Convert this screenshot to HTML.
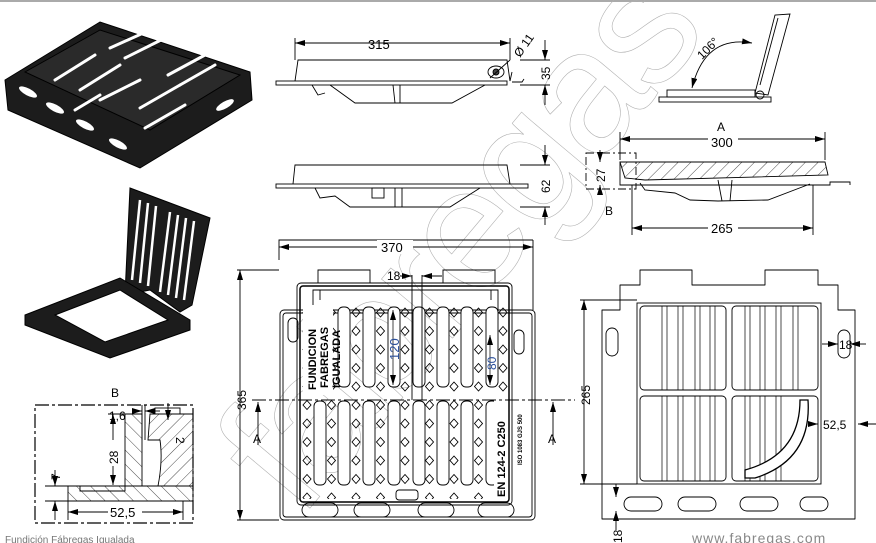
<!DOCTYPE html>
<html><head><meta charset="utf-8"><style>
html,body{margin:0;padding:0;background:#fff;}
svg{display:block;font-family:"Liberation Sans",sans-serif;}
</style></head><body>
<svg width="876" height="543" viewBox="0 0 876 543" xmlns="http://www.w3.org/2000/svg">
<defs>
<marker id="ar" markerWidth="10" markerHeight="6" refX="10" refY="3" orient="auto-start-reverse" markerUnits="userSpaceOnUse"><path d="M0,0 L10,3 L0,6 z" fill="#000"/></marker>
<pattern id="dia" x="295" y="303" width="24.5" height="18.5" patternUnits="userSpaceOnUse"><path d="M12,5 L16,9.5 L12,14 L8,9.5 z" fill="none" stroke="#000" stroke-width="0.9"/></pattern>
<pattern id="hat" width="9" height="9" patternUnits="userSpaceOnUse" patternTransform="rotate(45)"><line x1="0" y1="0" x2="0" y2="9" stroke="#000" stroke-width="0.7"/></pattern>
<pattern id="hat2" width="10" height="10" patternUnits="userSpaceOnUse" patternTransform="rotate(-45)"><line x1="0" y1="0" x2="0" y2="10" stroke="#000" stroke-width="0.7"/></pattern>
</defs>
<rect width="876" height="543" fill="#fff"/>
<line x1="0" y1="1" x2="876" y2="1" stroke="#aaa" stroke-width="2"/>

<!-- watermark -->
<g fill="none" stroke="#b0b0b0" stroke-width="0.6" font-size="175" font-family="Liberation Sans,sans-serif">
<text x="0" y="0" transform="translate(300,520) rotate(-50)" letter-spacing="-6">fabregas</text>
</g>

<!-- iso 1 -->
<g fill="#1c1c1c" stroke="#000">
<polygon points="5,80 100,22 250,72 252,100 140,168 8,110"/>
<polygon points="25,72 100,30 240,75 150,130" fill="#2a2a2a"/>
<g fill="#fff" stroke="none">
<ellipse cx="28" cy="92" rx="10" ry="3.5" transform="rotate(28 28 92)"/>
<ellipse cx="55" cy="108" rx="10" ry="3.5" transform="rotate(28 55 108)"/>
<ellipse cx="85" cy="125" rx="10" ry="3.5" transform="rotate(28 85 125)"/>
<ellipse cx="118" cy="144" rx="10" ry="3.5" transform="rotate(28 118 144)"/>
<ellipse cx="225" cy="105" rx="10" ry="3.5" transform="rotate(-30 225 105)"/>
</g>
<g stroke="#fff" stroke-width="3" stroke-linecap="round">
<line x1="55" y1="80" x2="95" y2="55"/><line x1="80" y1="90" x2="120" y2="65"/>
<line x1="110" y1="48" x2="150" y2="30"/><line x1="125" y1="58" x2="165" y2="38"/>
<line x1="140" y1="108" x2="180" y2="85"/><line x1="168" y1="75" x2="205" y2="55"/>
<line x1="180" y1="85" x2="215" y2="65"/><line x1="100" y1="100" x2="140" y2="80"/>
<line x1="145" y1="128" x2="185" y2="105"/><line x1="75" y1="110" x2="100" y2="95"/>
</g>
</g>
<!-- iso 2 -->
<g fill="#1c1c1c" stroke="#000">
<polygon points="130,188 210,218 192,305 180,312 150,290 125,295"/>
<g stroke="#fff" stroke-width="2.5">
<line x1="140" y1="200" x2="132" y2="280"/><line x1="148" y1="203" x2="140" y2="283"/>
<line x1="156" y1="206" x2="148" y2="286"/><line x1="170" y1="212" x2="160" y2="292"/>
<line x1="178" y1="215" x2="168" y2="295"/><line x1="186" y1="218" x2="176" y2="298"/>
<line x1="194" y1="221" x2="184" y2="300"/>
</g>
<polygon points="25,315 120,278 190,320 190,330 110,358 25,325"/>
<polygon points="55,315 120,290 168,320 105,342" fill="#fff"/>
</g>

<!-- side view 1 -->
<g fill="none" stroke="#000" stroke-width="0.9">
<rect x="276" y="81" width="231" height="4"/>
<path d="M295,81 L298,60 L507,60 L510,81"/>
<path d="M312,85 L318,95 L325,93 M330,85 L355,103 L452,103 L485,85"/>
<line x1="393" y1="85" x2="395" y2="103"/><line x1="400" y1="85" x2="400" y2="103"/>
<path d="M510,81 L512,72 M512,82 L522,82 L524,79"/>
<ellipse cx="496" cy="72" rx="8" ry="6"/><circle cx="496" cy="72" r="3" fill="#444"/>
<line x1="295" y1="60" x2="295" y2="38"/><line x1="510" y1="60" x2="510" y2="38"/>
<line x1="295" y1="43" x2="510" y2="43" marker-start="url(#ar)" marker-end="url(#ar)"/>
<line x1="490" y1="78" x2="510" y2="60"/>
<line x1="520" y1="60" x2="550" y2="60"/><line x1="520" y1="85" x2="550" y2="85"/>
<line x1="545" y1="40" x2="545" y2="60" marker-end="url(#ar)"/><line x1="545" y1="105" x2="545" y2="85" marker-end="url(#ar)"/>
</g>
<text x="368" y="49" font-size="13">315</text>
<text x="0" y="0" font-size="12" transform="translate(550,80) rotate(-90)">35</text>
<text x="0" y="0" font-size="12" transform="translate(520,58) rotate(-55)">Ø 11</text>

<!-- side view 2 -->
<g fill="none" stroke="#000" stroke-width="0.9">
<rect x="276" y="184" width="252" height="4"/>
<path d="M293,184 L295,165 L507,165 L510,184"/>
<path d="M315,188 L320,198 L335,196 L350,207 L450,207 L480,188"/>
<rect x="372" y="188" width="12" height="10"/>
<line x1="395" y1="188" x2="395" y2="207"/><line x1="402" y1="188" x2="402" y2="207"/>
<line x1="520" y1="165" x2="550" y2="165"/><line x1="520" y1="207" x2="550" y2="207"/>
<line x1="545" y1="145" x2="545" y2="165" marker-end="url(#ar)"/><line x1="545" y1="225" x2="545" y2="207" marker-end="url(#ar)"/>
</g>
<text x="0" y="0" font-size="12" transform="translate(550,193) rotate(-90)">62</text>

<!-- hinge view -->
<g fill="none" stroke="#000" stroke-width="0.9">
<rect x="659" y="97" width="112" height="5"/>
<rect x="667" y="90" width="88" height="7"/>
<polygon points="755,93 775,15 790,14 768,95"/>
<line x1="760" y1="85" x2="778" y2="18"/>
<circle cx="760" cy="95" r="4"/>
<path d="M692,88 Q705,35 752,43" marker-start="url(#ar)" marker-end="url(#ar)"/>
</g>
<text x="0" y="0" font-size="12" transform="translate(702,60) rotate(-45)">106°</text>

<!-- section A -->
<g fill="none" stroke="#000" stroke-width="0.9">
<polygon points="620,162 825,162 828,175 645,180 625,178" fill="url(#hat)"/>
<path d="M620,162 L620,185 L830,185 L830,182 L850,182 L850,185"/>
<path d="M640,183 L645,190 L675,193 L690,200 L718,201 L768,200 L810,184"/>
<line x1="718" y1="180" x2="722" y2="201"/><line x1="732" y1="180" x2="730" y2="201"/>
<rect x="586" y="153" width="50" height="36" stroke-dasharray="8,3,2,3"/>
<line x1="620" y1="160" x2="620" y2="132"/><line x1="825" y1="160" x2="825" y2="132"/>
<line x1="620" y1="139" x2="825" y2="139" marker-start="url(#ar)" marker-end="url(#ar)"/>
<line x1="632" y1="185" x2="632" y2="235"/><line x1="813" y1="185" x2="813" y2="235"/>
<line x1="632" y1="228" x2="813" y2="228" marker-start="url(#ar)" marker-end="url(#ar)"/>
<line x1="600" y1="150" x2="600" y2="162" marker-end="url(#ar)"/><line x1="600" y1="195" x2="600" y2="185" marker-end="url(#ar)"/>
</g>
<rect x="708" y="132" width="30" height="14" fill="#fff"/>
<text x="711" y="147" font-size="13">300</text>
<text x="717" y="131" font-size="12">A</text>
<rect x="708" y="221" width="30" height="14" fill="#fff"/>
<text x="711" y="233" font-size="13">265</text>
<text x="0" y="0" font-size="12" transform="translate(605,182) rotate(-90)">27</text>
<text x="605" y="215" font-size="12">B</text>

<!-- plan view center -->
<g fill="none" stroke="#000" stroke-width="0.9">
<path d="M279,260 L279,240 L533,240"/>
<line x1="533" y1="240" x2="533" y2="310"/>
<line x1="279" y1="247" x2="533" y2="247" marker-start="url(#ar)" marker-end="url(#ar)"/>
<rect x="280" y="310" width="255" height="210" rx="4"/><rect x="283" y="313" width="249" height="204" rx="3"/>
<path d="M318,283 L318,270 L370,270 L370,283 M443,283 L443,270 L495,270 L495,283"/>
<rect x="297" y="283" width="215" height="222" rx="4"/>
<rect x="300" y="286" width="209" height="216" rx="3" stroke-width="1.5"/>
<rect x="300" y="303" width="209" height="196" fill="url(#dia)" stroke="none"/>
<path d="M313,320 L313,290 L498,290 L498,320" />
<path d="M320,300 L320,290 M491,300 L491,290"/>
<g fill="#fff">
<rect x="338" y="307" width="12" height="80" rx="5"/><rect x="363" y="307" width="12" height="80" rx="5"/>
<rect x="388" y="307" width="12" height="80" rx="5"/><rect x="413" y="307" width="12" height="80" rx="5"/>
<rect x="437" y="307" width="12" height="80" rx="5"/><rect x="461" y="307" width="12" height="80" rx="5"/>
<rect x="486" y="307" width="12" height="80" rx="5"/>
<rect x="314" y="401" width="12" height="84" rx="5"/><rect x="338" y="401" width="12" height="84" rx="5"/>
<rect x="363" y="401" width="12" height="84" rx="5"/><rect x="388" y="401" width="12" height="84" rx="5"/>
<rect x="413" y="401" width="12" height="84" rx="5"/><rect x="437" y="401" width="12" height="84" rx="5"/>
<rect x="461" y="401" width="12" height="84" rx="5"/><rect x="486" y="401" width="12" height="84" rx="5"/>
<rect x="303" y="305" width="30" height="90" stroke="none"/>
<rect x="494" y="400" width="14" height="100" stroke="none"/>
<rect x="396" y="490" width="22" height="10" rx="3"/>
</g>
<rect x="288" y="318" width="10" height="24" rx="5"/><rect x="514" y="330" width="10" height="24" rx="5"/>
<rect x="302" y="503" width="36" height="14" rx="7"/><rect x="354" y="503" width="36" height="14" rx="7"/>
<rect x="418" y="503" width="36" height="14" rx="7"/><rect x="478" y="503" width="36" height="14" rx="7"/>
<line x1="252" y1="400" x2="575" y2="400" stroke-dasharray="14,3,3,3"/>
<line x1="258" y1="445" x2="258" y2="402" marker-end="url(#ar)"/>
<line x1="553" y1="445" x2="553" y2="402" marker-end="url(#ar)"/>
<line x1="237" y1="270" x2="279" y2="270"/><line x1="237" y1="520" x2="279" y2="520"/>
<line x1="240" y1="270" x2="240" y2="520" marker-start="url(#ar)" marker-end="url(#ar)"/>
<line x1="412" y1="275" x2="412" y2="400"/><line x1="422" y1="275" x2="422" y2="400"/>
<line x1="400" y1="276" x2="412" y2="276" marker-end="url(#ar)"/><line x1="442" y1="276" x2="422" y2="276" marker-end="url(#ar)"/>
<line x1="393" y1="310" x2="393" y2="385" marker-start="url(#ar)" marker-end="url(#ar)" stroke="#333"/>
<line x1="490" y1="335" x2="490" y2="385" marker-start="url(#ar)" marker-end="url(#ar)" stroke="#333"/>
</g>
<rect x="377" y="240" width="36" height="14" fill="#fff"/>
<text x="381" y="252" font-size="13">370</text>
<text x="387" y="280" font-size="12">18</text>
<text x="0" y="0" font-size="12" transform="translate(246,410) rotate(-90)">365</text>
<text x="253" y="443" font-size="12">A</text>
<text x="548" y="443" font-size="12">A</text>
<text x="0" y="0" font-size="13" fill="#2a4f9a" transform="translate(399,360) rotate(-90)">120</text>
<text x="0" y="0" font-size="12" fill="#2a4f9a" transform="translate(496,370) rotate(-90)">80</text>
<g font-weight="bold" font-size="11">
<text x="0" y="0" transform="translate(316,390) rotate(-90)">FUNDICION</text>
<text x="0" y="0" transform="translate(328,388) rotate(-90)">FABREGAS</text>
<text x="0" y="0" transform="translate(340,388) rotate(-90)">IGUALADA</text>
<text x="0" y="0" transform="translate(505,497) rotate(-90)">EN 124-2 C250</text>
<text x="0" y="0" font-size="6" transform="translate(522,465) rotate(-90)">ISO 1083 GJS 500</text>
</g>

<!-- right plan -->
<g fill="none" stroke="#000" stroke-width="0.9">
<path d="M602,310 L620,310 L620,285 L640,285 L640,270 L692,270 L692,285 L765,285 L765,270 L818,270 L818,285 L838,285 L838,310 L855,310 L855,519 L602,519 Z" stroke-linejoin="round"/>
<rect x="637" y="303" width="184" height="181" fill="#fff"/>
<rect x="640" y="306" width="86" height="84" rx="4"/><rect x="732" y="306" width="86" height="84" rx="4"/>
<rect x="640" y="396" width="86" height="85" rx="4"/><rect x="732" y="396" width="86" height="85" rx="4"/>
<g stroke-width="0.7">
<path d="M662,306 V390 M667,306 V390 M678,306 V390 M683,306 V390 M695,306 V390 M700,306 V390 M710,306 V390 M715,306 V390"/>
<path d="M745,306 V390 M750,306 V390 M760,306 V390 M765,306 V390 M776,306 V390 M781,306 V390 M793,306 V390 M798,306 V390"/>
<path d="M662,396 V481 M667,396 V481 M678,396 V481 M683,396 V481 M695,396 V481 M700,396 V481 M710,396 V481 M715,396 V481"/>
<path d="M745,396 V481 M750,396 V481 M760,396 V481 M765,396 V481 M776,396 V481 M781,396 V481"/>
</g>
<path d="M800,400 L808,400 Q812,460 755,478 L745,478 L745,470 Q800,455 800,400 Z" fill="#fff" stroke-width="1.3"/>
<rect x="606" y="328" width="12" height="28" rx="6"/><rect x="838" y="330" width="12" height="28" rx="6"/>
<rect x="624" y="497" width="38" height="14" rx="7"/><rect x="678" y="497" width="38" height="14" rx="7"/>
<rect x="740" y="497" width="38" height="14" rx="7"/><rect x="800" y="497" width="28" height="14" rx="7"/>
<line x1="580" y1="300" x2="637" y2="300"/><line x1="580" y1="484" x2="637" y2="484"/>
<line x1="584" y1="300" x2="584" y2="484" marker-start="url(#ar)" marker-end="url(#ar)"/>
<line x1="822" y1="344" x2="838" y2="344" marker-end="url(#ar)"/><line x1="866" y1="344" x2="850" y2="344" marker-end="url(#ar)"/>
<line x1="808" y1="424" x2="818" y2="424" marker-end="url(#ar)"/><line x1="876" y1="424" x2="858" y2="424" marker-end="url(#ar)"/>
<line x1="616" y1="484" x2="616" y2="497" marker-end="url(#ar)"/><line x1="616" y1="530" x2="616" y2="511" marker-end="url(#ar)"/>
</g>
<text x="0" y="0" font-size="12" transform="translate(590,405) rotate(-90)">265</text>
<text x="839" y="349" font-size="12">18</text>
<text x="823" y="429" font-size="12">52,5</text>
<text x="0" y="0" font-size="12" transform="translate(622,543) rotate(-90)">18</text>
<text x="692" y="543" font-size="14" fill="#888" letter-spacing="1">www.fabregas.com</text>

<!-- detail B -->
<text x="111" y="397" font-size="12">B</text>
<g fill="none" stroke="#000" stroke-width="0.9">
<rect x="35" y="405" width="158" height="118" stroke-dasharray="14,3,3,3" stroke-width="1.2"/>
<path d="M128,414 L142,414 L142,486 L125,486 L125,414 Z" fill="url(#hat2)"/>
<path d="M150,414 L193,414 L193,486 L158,486 Q163,460 160,440 L148,440 Z" fill="url(#hat)"/>
<path d="M68,486 L193,486 L193,501 L68,501 Z" fill="url(#hat2)"/>
<path d="M80,486 L80,491 L125,491 L125,486"/>
<rect x="155" y="408" width="25" height="6"/>
<line x1="113" y1="414" x2="113" y2="485" marker-start="url(#ar)" marker-end="url(#ar)"/>
<line x1="108" y1="414" x2="128" y2="414"/>
<line x1="132" y1="411" x2="142" y2="411" marker-end="url(#ar)"/><line x1="160" y1="411" x2="145" y2="411" marker-end="url(#ar)"/>
<line x1="142" y1="405" x2="142" y2="440"/><line x1="145" y1="405" x2="145" y2="440"/>
<line x1="168" y1="403" x2="168" y2="420" marker-end="url(#ar)"/>
<line x1="45" y1="486" x2="68" y2="486"/><line x1="45" y1="501" x2="68" y2="501"/>
<line x1="55" y1="470" x2="55" y2="486" marker-end="url(#ar)"/><line x1="55" y1="520" x2="55" y2="501" marker-end="url(#ar)"/>
<line x1="68" y1="501" x2="68" y2="520"/><line x1="183" y1="501" x2="183" y2="520"/>
<line x1="68" y1="512" x2="183" y2="512" marker-start="url(#ar)" marker-end="url(#ar)"/>
</g>
<text x="109" y="420" font-size="12">1,6</text>
<text x="0" y="0" font-size="12" transform="translate(176,437) rotate(90)">2</text>
<rect x="106" y="440" width="14" height="26" fill="#fff"/>
<text x="0" y="0" font-size="12" transform="translate(118,464) rotate(-90)">28</text>
<text x="0" y="0" font-size="12" transform="translate(60,480) rotate(-90)">7</text>
<rect x="108" y="505" width="34" height="14" fill="#fff"/>
<text x="110" y="517" font-size="13">52,5</text>
<text x="5" y="543" font-size="10" fill="#777">Fundición Fábregas Igualada</text>
</svg>
</body></html>
